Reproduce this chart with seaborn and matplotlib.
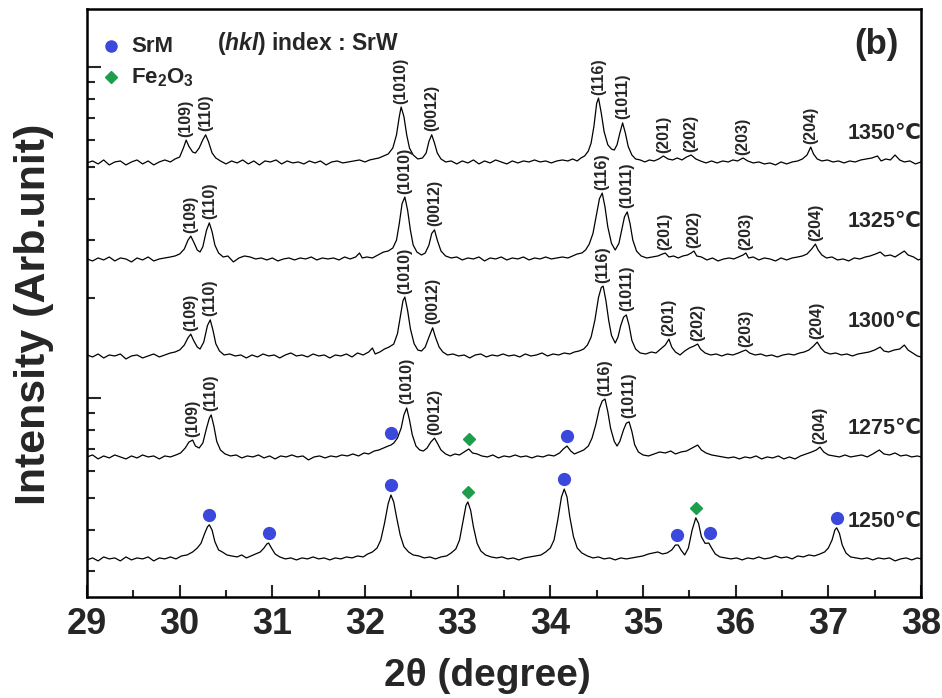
import numpy as np
import pandas as pd
import matplotlib
matplotlib.use("Agg")
import matplotlib.pyplot as plt
import matplotlib.transforms as mtransforms
from matplotlib.ticker import MultipleLocator, LogLocator, NullFormatter
from matplotlib import font_manager
import seaborn as sns

# ---------------- data ----------------
temps = [1350, 1325, 1300, 1275, 1250]
temp_labels = ["1350\u2103", "1325\u2103", "1300\u2103", "1275\u2103", "1250\u2103"]
# log10 intensity of each trace's background
base_log = [0.710, 0.417, 0.124, -0.181, -0.489]

# (2theta, log10 intensity above background)
pts_1350 = [
    (29.00, 0.000), (29.06, 0.006), (29.12, -0.003), (29.18, 0.009), (29.24, -0.006),
    (29.30, 0.003), (29.36, 0.006), (29.42, -0.006), (29.48, 0.003), (29.54, 0.009),
    (29.60, -0.003), (29.66, 0.006), (29.72, -0.006), (29.78, 0.003), (29.84, 0.009),
    (29.90, 0.003), (29.95, 0.012), (30.00, 0.018), (30.04, 0.045), (30.07, 0.069),
    (30.10, 0.050), (30.14, 0.033), (30.17, 0.030), (30.21, 0.045), (30.25, 0.070),
    (30.28, 0.085), (30.31, 0.065), (30.35, 0.030), (30.39, 0.015), (30.44, 0.006),
    (30.50, -0.003), (30.56, 0.006), (30.62, 0.000), (30.68, 0.009), (30.74, -0.003),
    (30.80, 0.006), (30.86, -0.006), (30.92, 0.006), (30.98, 0.003), (31.04, 0.009),
    (31.10, -0.003), (31.16, 0.006), (31.22, 0.000), (31.28, 0.003), (31.34, -0.003),
    (31.40, 0.006), (31.46, 0.000), (31.52, 0.006), (31.58, -0.006), (31.64, 0.003),
    (31.70, 0.006), (31.76, 0.000), (31.82, 0.003), (31.88, 0.006), (31.94, 0.009),
    (32.00, 0.003), (32.05, 0.009), (32.10, 0.012), (32.15, 0.015), (32.20, 0.021),
    (32.25, 0.027), (32.30, 0.045), (32.34, 0.085), (32.37, 0.140), (32.39, 0.169),
    (32.42, 0.140), (32.45, 0.085), (32.48, 0.045), (32.52, 0.024), (32.57, 0.012),
    (32.62, 0.015), (32.66, 0.030), (32.69, 0.065), (32.72, 0.085), (32.75, 0.060),
    (32.78, 0.030), (32.82, 0.012), (32.87, 0.003), (32.93, 0.006), (32.99, -0.003),
    (33.05, 0.006), (33.11, 0.000), (33.17, 0.009), (33.23, -0.003), (33.29, 0.006),
    (33.35, 0.000), (33.41, 0.009), (33.47, 0.003), (33.53, -0.003), (33.59, 0.006),
    (33.65, 0.000), (33.71, 0.006), (33.77, 0.003), (33.83, 0.009), (33.89, 0.003),
    (33.95, 0.006), (34.01, 0.000), (34.07, 0.006), (34.13, 0.009), (34.19, 0.006),
    (34.24, 0.012), (34.29, 0.006), (34.33, 0.015), (34.37, 0.021), (34.41, 0.036),
    (34.44, 0.060), (34.47, 0.110), (34.50, 0.180), (34.52, 0.196), (34.55, 0.150),
    (34.58, 0.095), (34.62, 0.055), (34.66, 0.042), (34.69, 0.039), (34.72, 0.055),
    (34.75, 0.090), (34.78, 0.121), (34.81, 0.090), (34.84, 0.050), (34.88, 0.024),
    (34.92, 0.012), (34.97, 0.009), (35.02, 0.003), (35.07, 0.009), (35.12, 0.006),
    (35.17, 0.012), (35.22, 0.021), (35.27, 0.012), (35.32, 0.009), (35.37, 0.015),
    (35.42, 0.009), (35.47, 0.018), (35.52, 0.024), (35.57, 0.012), (35.62, 0.006),
    (35.68, 0.000), (35.74, 0.006), (35.80, 0.000), (35.86, 0.006), (35.92, 0.003),
    (35.97, 0.009), (36.02, 0.006), (36.08, 0.015), (36.13, 0.006), (36.19, 0.000),
    (36.25, 0.003), (36.31, -0.003), (36.37, 0.000), (36.43, -0.006), (36.49, 0.003),
    (36.55, -0.003), (36.61, 0.003), (36.67, 0.006), (36.72, 0.012), (36.77, 0.024),
    (36.81, 0.048), (36.84, 0.027), (36.88, 0.012), (36.93, 0.006), (36.99, 0.009),
    (37.05, 0.003), (37.11, 0.006), (37.17, 0.000), (37.23, 0.006), (37.29, 0.003),
    (37.35, 0.009), (37.41, 0.012), (37.47, 0.015), (37.53, 0.021), (37.57, 0.006),
    (37.62, 0.012), (37.67, 0.009), (37.72, 0.024), (37.77, 0.009), (37.82, 0.003),
    (37.88, 0.006), (37.94, -0.003), (38.00, 0.003),
]

pts_1325 = [
    (29.00, 0.003), (29.06, -0.003), (29.12, 0.006), (29.18, 0.000), (29.24, 0.009),
    (29.30, -0.003), (29.36, 0.006), (29.42, 0.003), (29.48, -0.006), (29.54, 0.006),
    (29.60, 0.000), (29.66, 0.009), (29.72, -0.003), (29.78, 0.003), (29.84, 0.006),
    (29.90, 0.009), (29.95, 0.012), (30.00, 0.018), (30.05, 0.033), (30.09, 0.060),
    (30.12, 0.072), (30.15, 0.055), (30.19, 0.030), (30.22, 0.024), (30.25, 0.040),
    (30.29, 0.090), (30.32, 0.112), (30.35, 0.085), (30.38, 0.045), (30.42, 0.021),
    (30.47, 0.009), (30.52, 0.012), (30.58, -0.006), (30.64, 0.006), (30.70, 0.012),
    (30.76, 0.009), (30.82, 0.003), (30.88, 0.006), (30.94, 0.000), (31.00, 0.006),
    (31.06, -0.003), (31.12, 0.003), (31.18, 0.006), (31.24, 0.000), (31.30, 0.006),
    (31.36, 0.003), (31.42, 0.009), (31.48, 0.000), (31.54, 0.006), (31.60, 0.003),
    (31.66, 0.006), (31.72, 0.000), (31.78, 0.009), (31.84, 0.003), (31.90, 0.009),
    (31.94, 0.021), (31.97, 0.006), (32.02, 0.009), (32.08, 0.006), (32.14, 0.015),
    (32.20, 0.024), (32.25, 0.027), (32.30, 0.036), (32.34, 0.060), (32.37, 0.110),
    (32.40, 0.170), (32.43, 0.190), (32.46, 0.150), (32.49, 0.090), (32.52, 0.045),
    (32.56, 0.024), (32.61, 0.015), (32.65, 0.021), (32.69, 0.045), (32.72, 0.080),
    (32.75, 0.091), (32.78, 0.060), (32.82, 0.027), (32.87, 0.012), (32.93, 0.006),
    (32.99, 0.009), (33.05, 0.000), (33.11, 0.006), (33.17, 0.003), (33.23, 0.009),
    (33.29, -0.003), (33.35, 0.006), (33.41, 0.003), (33.47, 0.009), (33.53, 0.000),
    (33.59, 0.006), (33.65, 0.003), (33.71, 0.009), (33.77, 0.000), (33.83, 0.006),
    (33.89, 0.003), (33.95, 0.009), (34.01, 0.003), (34.07, 0.006), (34.13, 0.009),
    (34.19, 0.006), (34.24, 0.012), (34.29, 0.018), (34.34, 0.021), (34.38, 0.030),
    (34.42, 0.048), (34.46, 0.080), (34.50, 0.140), (34.53, 0.185), (34.56, 0.202),
    (34.59, 0.160), (34.62, 0.100), (34.66, 0.050), (34.70, 0.030), (34.74, 0.050),
    (34.77, 0.090), (34.80, 0.130), (34.83, 0.145), (34.86, 0.110), (34.89, 0.060),
    (34.93, 0.027), (34.98, 0.012), (35.04, 0.006), (35.10, 0.009), (35.16, 0.012),
    (35.21, 0.018), (35.24, 0.021), (35.28, 0.009), (35.33, 0.012), (35.38, 0.006),
    (35.43, 0.012), (35.48, 0.015), (35.52, 0.021), (35.55, 0.027), (35.58, 0.012),
    (35.63, 0.009), (35.69, 0.000), (35.75, 0.006), (35.81, -0.003), (35.87, 0.003),
    (35.93, 0.006), (35.98, 0.003), (36.03, 0.009), (36.08, 0.015), (36.11, 0.021),
    (36.14, 0.006), (36.19, 0.009), (36.25, 0.000), (36.31, 0.006), (36.37, 0.003),
    (36.43, -0.003), (36.49, 0.006), (36.55, 0.000), (36.61, 0.006), (36.67, 0.009),
    (36.72, 0.012), (36.77, 0.018), (36.82, 0.033), (36.86, 0.048), (36.89, 0.030),
    (36.93, 0.015), (36.98, 0.006), (37.04, 0.009), (37.10, 0.000), (37.16, 0.003),
    (37.22, -0.003), (37.28, 0.006), (37.34, 0.003), (37.40, 0.009), (37.45, 0.012),
    (37.51, 0.018), (37.56, 0.024), (37.61, 0.012), (37.67, 0.015), (37.72, 0.009),
    (37.77, 0.018), (37.82, 0.027), (37.86, 0.015), (37.92, 0.009), (37.97, 0.000),
    (38.00, 0.003),
]

pts_1300 = [
    (29.00, 0.006), (29.06, 0.000), (29.12, 0.009), (29.18, -0.003), (29.24, 0.006),
    (29.30, 0.003), (29.36, 0.009), (29.42, -0.006), (29.48, 0.003), (29.54, 0.006),
    (29.60, -0.003), (29.66, 0.003), (29.72, 0.009), (29.78, 0.000), (29.84, 0.006),
    (29.90, 0.012), (29.95, 0.015), (30.00, 0.021), (30.05, 0.036), (30.09, 0.058),
    (30.12, 0.069), (30.15, 0.050), (30.19, 0.030), (30.22, 0.024), (30.26, 0.045),
    (30.30, 0.095), (30.33, 0.112), (30.36, 0.080), (30.39, 0.040), (30.43, 0.018),
    (30.48, 0.006), (30.54, 0.009), (30.60, 0.003), (30.66, 0.006), (30.72, -0.003),
    (30.78, 0.006), (30.84, 0.000), (30.90, 0.009), (30.96, 0.003), (31.02, 0.006),
    (31.08, -0.003), (31.14, 0.006), (31.20, 0.012), (31.26, 0.003), (31.32, 0.006),
    (31.38, 0.000), (31.44, 0.009), (31.50, 0.003), (31.56, 0.006), (31.62, -0.003),
    (31.68, 0.006), (31.74, 0.003), (31.80, 0.009), (31.86, 0.000), (31.92, 0.012),
    (31.98, 0.006), (32.04, 0.015), (32.08, 0.027), (32.11, 0.009), (32.16, 0.015),
    (32.21, 0.024), (32.26, 0.030), (32.31, 0.039), (32.35, 0.070), (32.38, 0.120),
    (32.41, 0.170), (32.43, 0.181), (32.46, 0.140), (32.49, 0.085), (32.53, 0.040),
    (32.57, 0.021), (32.61, 0.018), (32.65, 0.030), (32.69, 0.060), (32.73, 0.088),
    (32.76, 0.060), (32.80, 0.030), (32.84, 0.015), (32.89, 0.006), (32.95, 0.009),
    (33.01, 0.003), (33.07, 0.006), (33.13, -0.003), (33.19, 0.006), (33.25, 0.009),
    (33.31, 0.000), (33.37, 0.006), (33.43, 0.003), (33.49, 0.009), (33.55, 0.003),
    (33.61, 0.006), (33.67, 0.000), (33.73, 0.009), (33.79, 0.003), (33.85, 0.006),
    (33.91, 0.012), (33.97, 0.003), (34.03, 0.009), (34.09, 0.006), (34.15, 0.012),
    (34.21, 0.009), (34.26, 0.015), (34.31, 0.018), (34.36, 0.024), (34.40, 0.036),
    (34.44, 0.060), (34.48, 0.110), (34.52, 0.180), (34.55, 0.210), (34.57, 0.214),
    (34.60, 0.170), (34.63, 0.110), (34.66, 0.065), (34.70, 0.042), (34.73, 0.060),
    (34.76, 0.095), (34.79, 0.120), (34.82, 0.127), (34.85, 0.095), (34.88, 0.050),
    (34.92, 0.024), (34.97, 0.012), (35.03, 0.009), (35.09, 0.015), (35.14, 0.012),
    (35.19, 0.024), (35.24, 0.036), (35.28, 0.054), (35.31, 0.030), (35.35, 0.015),
    (35.40, 0.006), (35.45, 0.018), (35.50, 0.027), (35.55, 0.033), (35.59, 0.039),
    (35.62, 0.024), (35.67, 0.012), (35.73, 0.006), (35.79, 0.009), (35.85, 0.003),
    (35.91, 0.009), (35.97, 0.006), (36.03, 0.012), (36.08, 0.018), (36.11, 0.021),
    (36.15, 0.012), (36.21, 0.006), (36.27, 0.009), (36.33, 0.003), (36.39, 0.006),
    (36.45, 0.000), (36.51, 0.006), (36.57, 0.009), (36.63, 0.006), (36.69, 0.012),
    (36.74, 0.015), (36.79, 0.021), (36.84, 0.033), (36.88, 0.045), (36.92, 0.027),
    (36.96, 0.015), (37.02, 0.009), (37.08, 0.012), (37.14, 0.006), (37.20, 0.009),
    (37.26, 0.003), (37.32, 0.009), (37.38, 0.012), (37.44, 0.015), (37.50, 0.021),
    (37.56, 0.030), (37.60, 0.018), (37.65, 0.015), (37.71, 0.021), (37.77, 0.024),
    (37.82, 0.036), (37.86, 0.021), (37.91, 0.012), (37.96, 0.003), (38.00, 0.000),
]

pts_1275 = [
    (29.00, 0.003), (29.06, 0.009), (29.12, -0.003), (29.18, 0.006), (29.24, 0.000),
    (29.30, 0.009), (29.36, 0.003), (29.42, -0.003), (29.48, 0.006), (29.54, 0.000),
    (29.60, 0.009), (29.66, 0.003), (29.72, 0.006), (29.78, -0.003), (29.84, 0.006),
    (29.90, 0.003), (29.96, 0.009), (30.01, 0.015), (30.06, 0.030), (30.10, 0.048),
    (30.14, 0.054), (30.17, 0.036), (30.21, 0.030), (30.25, 0.045), (30.29, 0.090),
    (30.32, 0.120), (30.34, 0.130), (30.37, 0.095), (30.40, 0.050), (30.44, 0.024),
    (30.49, 0.012), (30.55, 0.006), (30.61, 0.009), (30.67, 0.000), (30.73, 0.006),
    (30.79, 0.003), (30.85, 0.009), (30.91, 0.000), (30.97, 0.006), (31.03, -0.003),
    (31.09, 0.006), (31.15, 0.003), (31.21, 0.009), (31.27, 0.003), (31.33, 0.006),
    (31.39, -0.006), (31.45, 0.003), (31.51, 0.006), (31.57, 0.000), (31.63, 0.006),
    (31.69, 0.003), (31.75, 0.009), (31.81, 0.006), (31.87, 0.012), (31.93, 0.006),
    (31.99, 0.015), (32.04, 0.012), (32.10, 0.021), (32.15, 0.024), (32.20, 0.030),
    (32.25, 0.036), (32.28, 0.039), (32.31, 0.045), (32.35, 0.060), (32.39, 0.090),
    (32.42, 0.130), (32.45, 0.151), (32.48, 0.115), (32.51, 0.070), (32.55, 0.036),
    (32.59, 0.024), (32.63, 0.021), (32.67, 0.030), (32.71, 0.048), (32.75, 0.060),
    (32.78, 0.045), (32.82, 0.024), (32.87, 0.012), (32.92, 0.006), (32.97, 0.012),
    (33.02, 0.009), (33.07, 0.018), (33.12, 0.027), (33.16, 0.015), (33.21, 0.012),
    (33.26, 0.006), (33.32, 0.003), (33.38, 0.009), (33.44, 0.000), (33.50, 0.006),
    (33.56, 0.003), (33.62, 0.009), (33.68, 0.003), (33.74, 0.006), (33.80, 0.000),
    (33.86, 0.006), (33.92, 0.003), (33.98, 0.009), (34.04, 0.006), (34.10, 0.015),
    (34.14, 0.027), (34.18, 0.036), (34.22, 0.021), (34.26, 0.012), (34.31, 0.018),
    (34.36, 0.024), (34.41, 0.036), (34.45, 0.060), (34.49, 0.100), (34.53, 0.150),
    (34.56, 0.172), (34.59, 0.178), (34.62, 0.140), (34.65, 0.090), (34.69, 0.050),
    (34.72, 0.036), (34.75, 0.050), (34.79, 0.085), (34.82, 0.105), (34.85, 0.109),
    (34.88, 0.080), (34.91, 0.040), (34.95, 0.018), (35.00, 0.009), (35.06, 0.006),
    (35.12, 0.012), (35.18, 0.018), (35.24, 0.015), (35.30, 0.021), (35.35, 0.012),
    (35.41, 0.018), (35.47, 0.021), (35.53, 0.030), (35.59, 0.039), (35.63, 0.024),
    (35.68, 0.015), (35.74, 0.009), (35.80, 0.006), (35.86, 0.003), (35.92, 0.000),
    (35.98, 0.003), (36.04, -0.003), (36.10, 0.003), (36.16, 0.000), (36.22, 0.006),
    (36.28, -0.003), (36.34, 0.003), (36.40, 0.000), (36.46, 0.006), (36.52, -0.003),
    (36.58, 0.003), (36.64, -0.003), (36.70, 0.006), (36.76, 0.012), (36.82, 0.018),
    (36.87, 0.024), (36.91, 0.033), (36.95, 0.018), (37.00, 0.009), (37.06, 0.006),
    (37.12, 0.003), (37.18, 0.009), (37.24, 0.003), (37.30, 0.006), (37.36, 0.009),
    (37.42, 0.003), (37.48, 0.012), (37.55, 0.024), (37.60, 0.012), (37.66, 0.009),
    (37.72, 0.015), (37.78, 0.006), (37.84, 0.009), (37.90, 0.003), (37.96, 0.006),
    (38.00, 0.003),
]

pts_1250 = [
    (29.00, 0.000), (29.06, 0.006), (29.12, -0.003), (29.18, 0.009), (29.24, 0.003),
    (29.30, 0.006), (29.36, -0.003), (29.42, 0.009), (29.48, 0.000), (29.54, 0.006),
    (29.60, 0.003), (29.66, 0.009), (29.72, -0.003), (29.78, 0.006), (29.84, 0.003),
    (29.90, 0.009), (29.96, 0.003), (30.02, 0.012), (30.08, 0.015), (30.14, 0.024),
    (30.19, 0.036), (30.23, 0.050), (30.27, 0.080), (30.30, 0.100), (30.32, 0.106),
    (30.35, 0.090), (30.38, 0.055), (30.42, 0.030), (30.46, 0.024), (30.51, 0.015),
    (30.56, 0.012), (30.62, 0.009), (30.67, 0.015), (30.72, 0.006), (30.77, 0.012),
    (30.82, 0.018), (30.87, 0.024), (30.91, 0.036), (30.94, 0.048), (30.96, 0.051),
    (30.99, 0.036), (31.03, 0.018), (31.08, 0.009), (31.14, 0.003), (31.20, 0.006),
    (31.26, 0.000), (31.32, 0.006), (31.38, 0.003), (31.44, 0.009), (31.50, 0.003),
    (31.56, 0.006), (31.62, 0.000), (31.68, 0.006), (31.74, 0.003), (31.80, 0.009),
    (31.86, 0.006), (31.92, 0.012), (31.98, 0.009), (32.03, 0.018), (32.08, 0.024),
    (32.13, 0.036), (32.17, 0.060), (32.21, 0.110), (32.25, 0.170), (32.28, 0.196),
    (32.31, 0.175), (32.34, 0.130), (32.38, 0.075), (32.42, 0.040), (32.47, 0.024),
    (32.52, 0.015), (32.58, 0.012), (32.64, 0.006), (32.70, 0.009), (32.76, 0.003),
    (32.82, 0.009), (32.88, 0.012), (32.93, 0.021), (32.98, 0.033), (33.02, 0.060),
    (33.06, 0.120), (33.09, 0.165), (33.11, 0.175), (33.14, 0.150), (33.17, 0.100),
    (33.21, 0.050), (33.25, 0.027), (33.30, 0.015), (33.36, 0.009), (33.42, 0.006),
    (33.48, 0.009), (33.54, 0.003), (33.60, 0.006), (33.66, 0.000), (33.72, 0.006),
    (33.78, 0.009), (33.84, 0.012), (33.90, 0.015), (33.95, 0.024), (34.00, 0.036),
    (34.04, 0.060), (34.08, 0.120), (34.12, 0.190), (34.15, 0.214), (34.18, 0.190),
    (34.21, 0.130), (34.25, 0.070), (34.29, 0.036), (34.34, 0.021), (34.40, 0.012),
    (34.46, 0.006), (34.52, 0.009), (34.58, 0.003), (34.64, 0.006), (34.70, 0.000),
    (34.76, 0.006), (34.82, 0.003), (34.88, 0.006), (34.94, 0.009), (35.00, 0.012),
    (35.06, 0.018), (35.11, 0.021), (35.16, 0.024), (35.21, 0.018), (35.26, 0.021),
    (35.31, 0.030), (35.35, 0.045), (35.38, 0.045), (35.41, 0.030), (35.45, 0.015),
    (35.49, 0.036), (35.53, 0.090), (35.57, 0.127), (35.60, 0.110), (35.63, 0.070),
    (35.67, 0.050), (35.71, 0.051), (35.74, 0.036), (35.78, 0.018), (35.83, 0.009),
    (35.89, 0.006), (35.95, 0.003), (36.01, 0.006), (36.07, 0.000), (36.13, 0.006),
    (36.19, 0.003), (36.25, 0.009), (36.31, 0.003), (36.37, 0.006), (36.43, 0.012),
    (36.49, 0.006), (36.55, 0.009), (36.61, 0.003), (36.67, 0.012), (36.73, 0.009),
    (36.79, 0.015), (36.85, 0.012), (36.91, 0.018), (36.96, 0.024), (37.00, 0.036),
    (37.04, 0.060), (37.07, 0.090), (37.09, 0.097), (37.12, 0.080), (37.15, 0.045),
    (37.19, 0.021), (37.24, 0.009), (37.30, 0.006), (37.36, 0.003), (37.42, 0.006),
    (37.48, 0.000), (37.54, 0.006), (37.60, 0.003), (37.66, 0.006), (37.72, -0.003),
    (37.78, 0.003), (37.84, 0.006), (37.90, 0.000), (37.96, 0.006), (38.00, 0.003),
]

trace_points = [pts_1350, pts_1325, pts_1300, pts_1275, pts_1250]

# (hkl) labels of SrW: (2theta, text) per temperature
hkl_1350 = [(30.07, "(109)"), (30.28, "(110)"), (32.39, "(1010)"), (32.72, "(0012)"),
            (34.52, "(116)"), (34.78, "(1011)"), (35.22, "(201)"), (35.52, "(202)"),
            (36.08, "(203)"), (36.81, "(204)")]
hkl_1325 = [(30.12, "(109)"), (30.32, "(110)"), (32.43, "(1010)"), (32.75, "(0012)"),
            (34.56, "(116)"), (34.83, "(1011)"), (35.24, "(201)"), (35.55, "(202)"),
            (36.11, "(203)"), (36.86, "(204)")]
hkl_1300 = [(30.12, "(109)"), (30.33, "(110)"), (32.43, "(1010)"), (32.73, "(0012)"),
            (34.57, "(116)"), (34.82, "(1011)"), (35.28, "(201)"), (35.59, "(202)"),
            (36.11, "(203)"), (36.88, "(204)")]
hkl_1275 = [(30.14, "(109)"), (30.34, "(110)"), (32.45, "(1010)"), (32.75, "(0012)"),
            (34.59, "(116)"), (34.85, "(1011)"), (36.91, "(204)")]
hkl_1250 = []
hkl_sets = [hkl_1350, hkl_1325, hkl_1300, hkl_1275, hkl_1250]

# phase markers: (temperature, 2theta)
srm_peaks = [(1275, 32.28), (1275, 34.18),
             (1250, 30.32), (1250, 30.96), (1250, 32.28), (1250, 34.15),
             (1250, 35.37), (1250, 35.72), (1250, 37.09)]
fe2o3_peaks = [(1275, 33.12), (1250, 33.11), (1250, 35.57)]

# ---------------- styling ----------------
sns.set_style("white")
names = {f.name for f in font_manager.fontManager.ttflist}
main_font = "Liberation Sans" if "Liberation Sans" in names else "DejaVu Sans"
narrow_font = "Liberation Sans Narrow" if "Liberation Sans Narrow" in names else main_font
plt.rcParams["font.family"] = [main_font, "DejaVu Sans"]
plt.rcParams["font.weight"] = "bold"
plt.rcParams["mathtext.fontset"] = "custom"
plt.rcParams["mathtext.rm"] = main_font + ":bold"
plt.rcParams["mathtext.bf"] = main_font + ":bold"
plt.rcParams["mathtext.it"] = main_font + ":italic:bold"

SRM_COLOR = "#3a48dc"
FE_COLOR = "#1e9e4c"

rows = []
for t, b, pts in zip(temps, base_log, trace_points):
    for x, d in pts:
        rows.append({"temp": t, "two_theta": x, "intensity": 10 ** (b + d)})
df = pd.DataFrame(rows)

fig = plt.figure(figsize=(9.42, 6.98), dpi=100)
ax = fig.add_axes([87 / 942, 101 / 698, 834 / 942, 588 / 698])

sns.lineplot(data=df, x="two_theta", y="intensity", units="temp", estimator=None,
             color="black", linewidth=0.9, sort=False, ax=ax, legend=False)

ax.set_yscale("log")
ax.set_xlim(29, 38)
ax.set_ylim(10 ** -0.601, 10 ** 1.175)


def peak_top(temp, x, win=0.04):
    sub = df[(df.temp == temp) & (df.two_theta >= x - win) & (df.two_theta <= x + win)]
    return sub.intensity.max()


# hkl labels
for t, hkls in zip(temps, hkl_sets):
    for x, lab in hkls:
        ax.annotate(lab, xy=(x, peak_top(t, x)), xytext=(0, 2.5), textcoords="offset points",
                    rotation=90, ha="center", va="bottom", fontsize=11.5, fontweight="bold",
                    family=[main_font, "DejaVu Sans"])

# phase markers
mk_off = mtransforms.offset_copy(ax.transData, fig=fig, x=0, y=7, units="points")
for t, x in srm_peaks:
    ax.plot([x], [peak_top(t, x)], "o", color=SRM_COLOR, markersize=8.5,
            transform=mk_off, zorder=5, clip_on=False)
for t, x in fe2o3_peaks:
    ax.plot([x], [peak_top(t, x)], "D", color=FE_COLOR, markersize=6.5,
            transform=mk_off, zorder=5, clip_on=False)

# temperature labels
temp_label_y = [0.789, 0.638, 0.468, 0.287, 0.128]
for lab, yy in zip(temp_labels, temp_label_y):
    ax.text(1.001, yy, lab, transform=ax.transAxes, ha="right", va="center",
            fontsize=15.5, fontweight="bold", family=[main_font, "DejaVu Sans"])

# legend-like annotations
ax.plot([0.0287], [0.937], "o", color=SRM_COLOR, markersize=8, transform=ax.transAxes)
ax.plot([0.0287], [0.884], "D", color=FE_COLOR, markersize=6, transform=ax.transAxes)
ax.text(0.0526, 0.937, "SrM", transform=ax.transAxes, ha="left", va="center",
        fontsize=16, fontweight="bold")
ax.text(0.0526, 0.884, r"Fe$_2$O$_3$", transform=ax.transAxes, ha="left", va="center",
        fontsize=16, fontweight="bold")
ax.text(0.156, 0.942, r"($\mathit{hkl}$) index : SrW", transform=ax.transAxes,
        ha="left", va="center", fontsize=16.5, fontweight="bold")
ax.text(0.947, 0.939, "(b)", transform=ax.transAxes, ha="center", va="center",
        fontsize=25, fontweight="bold")

# axes, ticks
ax.xaxis.set_major_locator(MultipleLocator(1))
ax.xaxis.set_minor_locator(MultipleLocator(0.5))
ax.yaxis.set_major_locator(LogLocator(base=10, numticks=10))
ax.yaxis.set_minor_locator(LogLocator(base=10, subs=np.arange(2, 10), numticks=20))
ax.yaxis.set_major_formatter(NullFormatter())
ax.yaxis.set_minor_formatter(NullFormatter())
ax.tick_params(axis="x", which="major", direction="in", length=9, width=1.5,
               bottom=True, top=False, pad=7)
ax.tick_params(axis="x", which="minor", direction="in", length=5, width=1.5,
               bottom=True, top=False)
ax.tick_params(axis="y", which="major", direction="in", length=10, width=1.5,
               left=True, right=False)
ax.tick_params(axis="y", which="minor", direction="in", length=6, width=1.5,
               left=True, right=False)
for lab in ax.get_xticklabels():
    lab.set_fontfamily([narrow_font, "DejaVu Sans"])
    lab.set_fontsize(26)
    lab.set_fontweight("bold")
for sp in ax.spines.values():
    sp.set_linewidth(1.8)
    sp.set_color("black")
    sp.set_visible(True)

ax.set_xlabel("2\u03b8 (degree)", fontsize=28, fontweight="bold")
ax.set_ylabel("Intensity (Arb.unit)", fontsize=31, fontweight="bold")
ax.xaxis.set_label_coords(0.48, -0.103)
ax.yaxis.set_label_coords(-0.04, 0.48)

fig.savefig("out.png", dpi=100)
